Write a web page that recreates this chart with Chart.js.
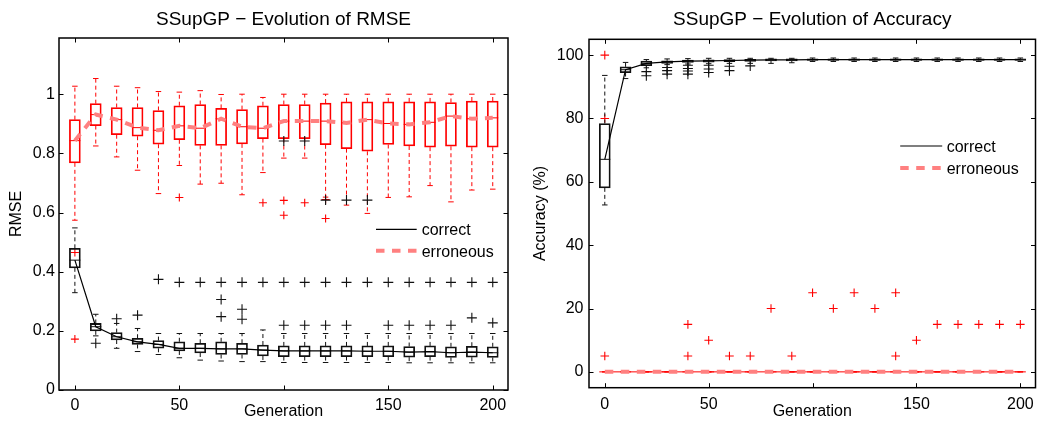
<!DOCTYPE html>
<html>
<head>
<meta charset="utf-8">
<script src="https://cdn.jsdelivr.net/npm/chart.js@4.4.1/dist/chart.umd.min.js"></script>
<style>
  body { margin: 0; background: #fff; }
  .panel { position: absolute; top: 0; height: 423px; }
  #left { left: 0; width: 520px; }
  #right { left: 520px; width: 522px; }
</style>
</head>
<body>
<div class="panel" id="left"><canvas id="rmseChart"></canvas></div>
<div class="panel" id="right"><canvas id="accChart"></canvas></div>
<script>
const generations = [0, 10, 20, 30, 40, 50, 60, 70, 80, 90, 100, 110, 120, 130, 140, 150, 160, 170, 180, 190, 200];

// RMSE, correct (black)
const rmseCorQ1  = [0.413, 0.200, 0.169, 0.154, 0.141, 0.132, 0.125, 0.120, 0.120, 0.115, 0.113, 0.113, 0.113, 0.113, 0.113, 0.113, 0.111, 0.113, 0.110, 0.111, 0.110];
const rmseCorMed = [0.439, 0.214, 0.180, 0.163, 0.154, 0.141, 0.141, 0.139, 0.139, 0.135, 0.132, 0.132, 0.132, 0.132, 0.131, 0.131, 0.128, 0.130, 0.126, 0.128, 0.126];
const rmseCorQ3  = [0.479, 0.225, 0.194, 0.175, 0.167, 0.163, 0.158, 0.163, 0.158, 0.152, 0.149, 0.149, 0.149, 0.149, 0.149, 0.149, 0.147, 0.149, 0.146, 0.148, 0.146];
const rmseCorLo  = [0.329, 0.183, 0.141, 0.130, 0.120, 0.109, 0.101, 0.098, 0.096, 0.096, 0.093, 0.093, 0.093, 0.093, 0.093, 0.093, 0.092, 0.092, 0.092, 0.092, 0.092];
const rmseCorHi  = [0.548, 0.256, 0.225, 0.208, 0.191, 0.191, 0.191, 0.191, 0.191, 0.203, 0.191, 0.191, 0.191, 0.191, 0.191, 0.191, 0.191, 0.191, 0.191, 0.191, 0.191];
const rmseCorOut = [[], [0.158], [0.241], [0.253], [0.374], [0.364], [0.364], [0.364, 0.306, 0.248], [0.364, 0.273, 0.239], [0.364],
  [0.364, 0.219, 0.842], [0.364, 0.219, 0.842], [0.364, 0.219, 0.642], [0.364, 0.219, 0.642], [0.364, 0.642],
  [0.364, 0.219], [0.364, 0.219], [0.364, 0.219], [0.364, 0.219], [0.364, 0.244], [0.364, 0.227]];

// RMSE, erroneous (red)
const rmseErrQ1  = [0.768, 0.894, 0.863, 0.858, 0.831, 0.846, 0.827, 0.827, 0.832, 0.850, 0.850, 0.850, 0.829, 0.816, 0.807, 0.830, 0.825, 0.821, 0.824, 0.821, 0.821];
const rmseErrMed = [0.843, 0.931, 0.914, 0.887, 0.878, 0.893, 0.885, 0.917, 0.890, 0.885, 0.909, 0.909, 0.909, 0.903, 0.914, 0.901, 0.898, 0.905, 0.926, 0.917, 0.920];
const rmseErrQ3  = [0.914, 0.968, 0.955, 0.955, 0.945, 0.961, 0.965, 0.952, 0.948, 0.961, 0.965, 0.965, 0.970, 0.974, 0.974, 0.974, 0.974, 0.974, 0.972, 0.977, 0.977];
const rmseErrLo  = [0.574, 0.825, 0.788, 0.743, 0.664, 0.759, 0.696, 0.699, 0.660, 0.735, 0.784, 0.784, 0.652, 0.625, 0.597, 0.651, 0.653, 0.691, 0.636, 0.676, 0.679];
const rmseErrHi  = [1.027, 1.053, 1.027, 1.022, 1.009, 1.007, 1.012, 0.999, 1.000, 0.989, 1.000, 1.000, 1.000, 1.000, 1.000, 1.000, 1.000, 1.000, 1.000, 1.000, 1.000];
const rmseErrOut = [[0.465, 0.172], [], [], [], [], [0.651], [], [], [], [0.633], [0.641, 0.591], [0.633], [0.644, 0.580], [], [], [], [], [], [], [], []];

// Accuracy, correct (black)
const accCorQ1  = [58.1, 94.5, 96.7, 97.4, 97.7, 97.8, 97.9, 98.0, 98.2, 98.2, 98.3, 98.3, 98.3, 98.3, 98.3, 98.3, 98.3, 98.3, 98.3, 98.3, 98.3];
const accCorMed = [67.1, 95.4, 97.4, 97.9, 98.1, 98.2, 98.3, 98.4, 98.5, 98.5, 98.6, 98.6, 98.6, 98.6, 98.6, 98.6, 98.6, 98.6, 98.6, 98.6, 98.6];
const accCorQ3  = [78.4, 96.3, 98.1, 98.2, 98.4, 98.5, 98.6, 98.7, 98.8, 98.8, 98.8, 98.8, 98.8, 98.8, 98.8, 98.8, 98.8, 98.8, 98.8, 98.8, 98.8];
const accCorLo  = [52.7, 92.6, 96.0, 97.0, 97.2, 97.3, 97.4, 97.4, 97.4, 97.6, 98.0, 98.0, 98.0, 98.0, 98.0, 98.0, 98.0, 98.0, 98.0, 98.0, 98.0];
const accCorHi  = [93.6, 97.7, 98.6, 98.8, 98.9, 99.0, 99.0, 99.0, 99.0, 99.0, 99.1, 99.1, 99.1, 99.1, 99.1, 99.1, 99.1, 99.1, 99.1, 99.1, 99.1];
const accCorOut = [[], [], [94.8, 93.5], [96.1, 95.1, 94.0], [96.8, 95.8, 95.0, 94.0], [96.8, 95.6, 94.5], [96.5, 95.1], [96.6],
  [], [], [], [], [], [], [], [], [], [], [], [], []];

// Accuracy, erroneous (red)
const accErrQ1  = [0, 0, 0, 0, 0, 0, 0, 0, 0, 0, 0, 0, 0, 0, 0, 0, 0, 0, 0, 0, 0];
const accErrMed = [0, 0, 0, 0, 0, 0, 0, 0, 0, 0, 0, 0, 0, 0, 0, 0, 0, 0, 0, 0, 0];
const accErrQ3  = [0, 0, 0, 0, 0, 0, 0, 0, 0, 0, 0, 0, 0, 0, 0, 0, 0, 0, 0, 0, 0];
const accErrLo  = [0, 0, 0, 0, 0, 0, 0, 0, 0, 0, 0, 0, 0, 0, 0, 0, 0, 0, 0, 0, 0];
const accErrHi  = [0, 0, 0, 0, 0, 0, 0, 0, 0, 0, 0, 0, 0, 0, 0, 0, 0, 0, 0, 0, 0];
const accErrOut = [[100, 80, 5], [], [], [], [15, 5], [10], [5], [5], [20], [5], [25], [20], [25], [20], [25, 5], [10], [15], [15], [15], [15], [15]];

const xTicks = [0, 50, 100, 150, 200];
const rmseTicks = [0, 0.2, 0.4, 0.6, 0.8, 1];
const accTicks = [0, 20, 40, 60, 80, 100];

const FONT = '"Liberation Sans", Arial, Helvetica, sans-serif';
const PINK = '#ff8080';
Chart.defaults.font.family = FONT;
Chart.defaults.color = '#000';

// one boxplot = floating bars (boxes) + dashed whiskers + caps + medians + outliers
function boxplotSets(q1, med, q3, lo, hi, out, color, cross, order) {
  const boxes = generations.map((g, i) => ({x: g, y: [q1[i], q3[i]]}));
  const whiskers = [];
  generations.forEach((g, i) => {
    whiskers.push({x: g, y: q3[i]}, {x: g, y: hi[i]}, {x: g, y: null});
    whiskers.push({x: g, y: q1[i]}, {x: g, y: lo[i]}, {x: g, y: null});
  });
  const caps = generations.flatMap((g, i) => [{x: g, y: lo[i]}, {x: g, y: hi[i]}]);
  const medians = generations.map((g, i) => ({x: g, y: med[i]}));
  const outliers = generations.flatMap((g, i) => out[i].map(v => ({x: g, y: v})));
  return [
    {type: 'scatter', data: outliers, pointStyle: 'cross', pointRadius: cross, borderColor: color, borderWidth: 1.1, order: order},
    {type: 'scatter', data: medians, pointStyle: 'line', pointRadius: 5.5, borderColor: color, borderWidth: 1, order: order + 1},
    {type: 'scatter', data: caps, pointStyle: 'line', pointRadius: 2.75, borderColor: color, borderWidth: 1, order: order + 2},
    {type: 'line', data: whiskers, borderColor: color, borderWidth: 1, borderDash: [4, 3], pointRadius: 0, spanGaps: false, order: order + 3},
    {type: 'bar', data: boxes, borderColor: color, backgroundColor: 'rgba(0,0,0,0)', borderWidth: 1.1,
      borderSkipped: false, barThickness: 11, grouped: false, order: order + 4}
  ];
}

function trendLine(label, values, color, width, dash, order) {
  return {type: 'line', label: label, inLegend: true, data: generations.map((g, i) => ({x: g, y: values[i]})),
    borderColor: color, borderWidth: width, borderDash: dash, pointRadius: 0, order: order};
}

// box around the axes with inward ticks on all four sides
const matlabFrame = {
  id: 'matlabFrame',
  afterDraw(chart) {
    const {ctx, chartArea: a, scales: {x, y}} = chart;
    const t = 4.5;
    ctx.save();
    ctx.strokeStyle = '#000';
    ctx.lineWidth = 1;
    ctx.beginPath();
    x.ticks.forEach(tk => {
      const px = Math.round(x.getPixelForValue(tk.value)) + 0.5;
      ctx.moveTo(px, a.bottom); ctx.lineTo(px, a.bottom - t);
      ctx.moveTo(px, a.top); ctx.lineTo(px, a.top + t);
    });
    y.ticks.forEach(tk => {
      const py = Math.round(y.getPixelForValue(tk.value)) + 0.5;
      ctx.moveTo(a.left, py); ctx.lineTo(a.left + t, py);
      ctx.moveTo(a.right, py); ctx.lineTo(a.right - t, py);
    });
    ctx.stroke();
    ctx.lineWidth = 1.5;
    ctx.strokeRect(a.left, a.top, a.right - a.left, a.bottom - a.top);
    ctx.restore();
  }
};

// legend drawn inside the axes, like MATLAB's
const insideLegend = {
  id: 'insideLegend',
  afterDraw(chart, args, opts) {
    const {ctx, chartArea: a} = chart;
    const items = chart.data.datasets.filter(d => d.inLegend);
    const x0 = a.right - opts.fromRight;
    ctx.save();
    items.forEach((d, k) => {
      const y = a.top + opts.fromTop + k * opts.rowGap;
      ctx.strokeStyle = d.borderColor;
      ctx.lineWidth = d.borderWidth;
      ctx.setLineDash(d.borderDash || []);
      ctx.beginPath();
      ctx.moveTo(x0, y);
      ctx.lineTo(x0 + opts.lineLength, y);
      ctx.stroke();
      ctx.setLineDash([]);
      ctx.fillStyle = '#000';
      ctx.font = opts.fontSize + 'px ' + FONT;
      ctx.textBaseline = 'middle';
      ctx.fillText(d.label, x0 + opts.lineLength + opts.gap, y + 1.5);
    });
    ctx.restore();
  }
};

function makeChart(id, p) {
  return new Chart(document.getElementById(id), {
    type: 'scatter',
    data: {datasets: p.datasets},
    plugins: [matlabFrame, insideLegend],
    options: {
      responsive: true,
      maintainAspectRatio: false,
      animation: false,
      events: [],
      layout: {padding: {left: 0, right: p.padRight, top: 0, bottom: 0}},
      plugins: {
        legend: {display: false},
        tooltip: {enabled: false},
        title: {display: true, text: p.title, fullSize: false, font: {size: 19, weight: 'normal'},
          padding: {top: 8, bottom: p.titleBottom}},
        insideLegend: p.legend
      },
      scales: {
        x: {
          type: 'linear', min: -7.6, max: 207.3, offset: false,
          afterBuildTicks: s => { s.ticks = xTicks.map(v => ({value: v})); },
          grid: {display: false, drawTicks: true, tickLength: 5},
          border: {display: false},
          ticks: {font: {size: 16}, padding: p.xPad, maxRotation: 0, autoSkip: false,
            callback: v => (v === 100 ? '' : String(v))},
          title: {display: true, text: 'Generation', font: {size: 16}, padding: {top: 0, bottom: 2}},
          afterFit: s => { s.height = p.xHeight; }
        },
        y: {
          type: 'linear', min: p.yMin, max: p.yMax,
          afterBuildTicks: s => { s.ticks = p.yTicks.map(v => ({value: v})); },
          grid: {display: false, drawTicks: false},
          border: {display: false},
          ticks: {font: {size: 16}, padding: p.yPad, callback: v => String(+v.toFixed(2))},
          title: {display: true, text: p.yTitle, font: {size: 16}, padding: {top: p.yTitlePad, bottom: 0}},
          afterFit: s => { s.width = p.yWidth; }
        }
      }
    }
  });
}

makeChart('rmseChart', {
  title: 'SSupGP \u2212 Evolution of RMSE',
  yTitle: 'RMSE', yMin: 0, yMax: 1.19, yTicks: rmseTicks,
  padRight: 12, titleBottom: 7.2, xHeight: 33, yWidth: 59, xPad: 0.5, yPad: 4, yTitlePad: 7,
  legend: {fromRight: 132, fromTop: 191.3, rowGap: 21.4, lineLength: 40.7, gap: 5, fontSize: 16},
  datasets: [
    trendLine('correct', rmseCorMed, '#000', 1.2, [], 0),
    trendLine('erroneous', rmseErrMed, PINK, 4, [8.5, 7.5], 1),
    ...boxplotSets(rmseCorQ1, rmseCorMed, rmseCorQ3, rmseCorLo, rmseCorHi, rmseCorOut, '#111', 5, 10),
    ...boxplotSets(rmseErrQ1, rmseErrMed, rmseErrQ3, rmseErrLo, rmseErrHi, rmseErrOut, '#ff0000', 4, 20)
  ]
});

makeChart('accChart', {
  title: 'SSupGP \u2212 Evolution of Accuracy',
  yTitle: 'Accuracy (%)', yMin: -5, yMax: 105, yTicks: accTicks,
  padRight: 1, titleBottom: 8.5, xHeight: 35.3, yWidth: 69, xPad: 2, yPad: 5.5, yTitlePad: 11.4,
  legend: {fromRight: 135.3, fromTop: 106.7, rowGap: 22, lineLength: 42, gap: 4.5, fontSize: 16},
  datasets: [
    trendLine('correct', accCorMed, '#000', 1.2, [], 0),
    trendLine('erroneous', accErrMed, PINK, 4, [8.5, 7.5], 1),
    {type: 'line', data: generations.map((g, i) => ({x: g, y: accErrMed[i]})), borderColor: '#ff0000',
      borderWidth: 1, pointRadius: 0, order: 2},
    ...boxplotSets(accCorQ1, accCorMed, accCorQ3, accCorLo, accCorHi, accCorOut, '#111', 5, 10),
    ...boxplotSets(accErrQ1, accErrMed, accErrQ3, accErrLo, accErrHi, accErrOut, '#ff0000', 4.3, 20)
  ]
});
</script>
</body>
</html>
